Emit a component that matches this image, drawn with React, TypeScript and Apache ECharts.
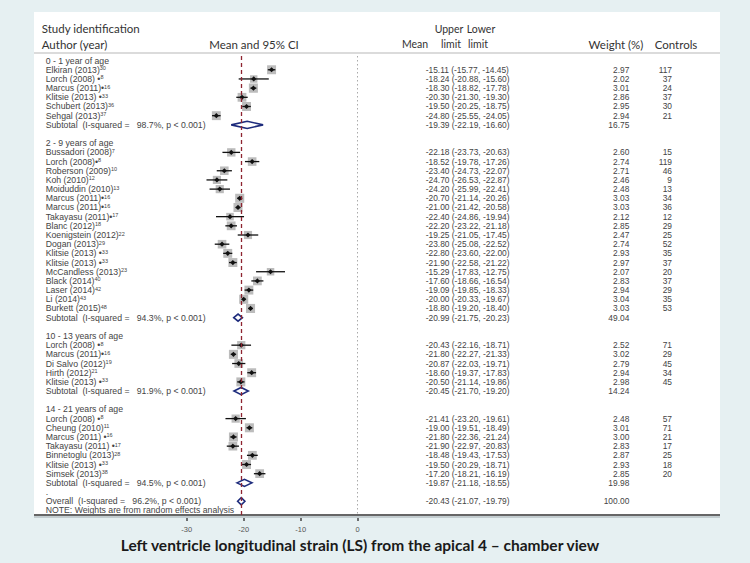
import React, { useEffect, useRef } from "react";
import * as echarts from "echarts";

// ---------- data ----------
const groupNames = ["0 - 1 year of age", "2 - 9 years of age", "10 - 13 years of age", "14 - 21 years of age"];
const groupI2 = ["98.7%", "94.3%", "91.9%", "94.5%"];
const groupMean = [-19.39, -20.99, -20.45, -19.87];
const groupLower = [-22.19, -21.75, -21.7, -21.18];
const groupUpper = [-16.6, -20.23, -19.2, -18.55];
const groupWeight = [16.75, 49.04, 14.24, 19.98];

const overallI2 = "96.2%";
const overallMean = -20.43;
const overallLower = -21.07;
const overallUpper = -19.79;
const overallWeight = 100.0;

const studyGroup = [
  0, 0, 0, 0, 0, 0,
  1, 1, 1, 1, 1, 1, 1, 1, 1, 1, 1, 1, 1, 1, 1, 1, 1, 1,
  2, 2, 2, 2, 2,
  3, 3, 3, 3, 3, 3, 3,
];
const studyAuthor = [
  "Elkiran (2013)", "Lorch (2008) \u2022", "Marcus (2011)\u2022", "Klitsie (2013) \u2022", "Schubert (2013)", "Sehgal (2013)",
  "Bussadori (2008)", "Lorch (2008)\u2022", "Roberson (2009)", "Koh (2010)", "Moiduddin (2010)", "Marcus (2011)\u2022",
  "Marcus (2011)\u2022", "Takayasu (2011)\u2022", "Blanc (2012)", "Koenigstein (2012)", "Dogan (2013)", "Klitsie (2013) \u2022",
  "Klitsie (2013) \u2022", "McCandless (2013)", "Black (2014)", "Laser (2014)", "Li (2014)", "Burkett (2015)",
  "Lorch (2008) \u2022", "Marcus (2011)\u2022", "Di Salvo (2012)", "Hirth (2012)", "Klitsie (2013) \u2022",
  "Lorch (2008) \u2022", "Cheung (2010)", "Marcus (2011) \u2022", "Takayasu (2011) \u2022", "Binnetoglu (2013)", "Klitsie (2013) \u2022", "Simsek (2013)",
];
const studyRef = [
  "30", "8", "16", "33", "36", "37",
  "7", "8", "10", "12", "13", "16", "16", "17", "18", "22", "29", "33", "33", "23", "40", "42", "43", "48",
  "8", "16", "19", "21", "33",
  "8", "11", "16", "17", "28", "33", "38",
];
const studyMean = [
  -15.11, -18.24, -18.3, -20.3, -19.5, -24.8,
  -22.18, -18.52, -23.4, -24.7, -24.2, -20.7, -21.0, -22.4, -22.2, -19.25, -23.8, -22.8, -21.9, -15.29, -17.6, -19.09, -20.0, -18.8,
  -20.43, -21.8, -20.87, -18.6, -20.5,
  -21.41, -19.0, -21.8, -21.9, -18.48, -19.5, -17.2,
];
const studyLower = [
  -15.77, -20.88, -18.82, -21.3, -20.25, -25.55,
  -23.73, -19.78, -24.73, -26.53, -25.99, -21.14, -21.42, -24.86, -23.22, -21.05, -25.08, -23.6, -22.58, -17.83, -18.66, -19.85, -20.33, -19.2,
  -22.16, -22.27, -22.03, -19.37, -21.14,
  -23.2, -19.51, -22.36, -22.97, -19.43, -20.29, -18.21,
];
const studyUpper = [
  -14.45, -15.6, -17.78, -19.3, -18.75, -24.05,
  -20.63, -17.26, -22.07, -22.87, -22.41, -20.26, -20.58, -19.94, -21.18, -17.45, -22.52, -22.0, -21.22, -12.75, -16.54, -18.33, -19.67, -18.4,
  -18.71, -21.33, -19.71, -17.83, -19.86,
  -19.61, -18.49, -21.24, -20.83, -17.53, -18.71, -16.19,
];
const studyWeight = [
  2.97, 2.02, 3.01, 2.86, 2.95, 2.94,
  2.6, 2.74, 2.71, 2.46, 2.48, 3.03, 3.03, 2.12, 2.85, 2.47, 2.74, 2.93, 2.97, 2.07, 2.83, 2.94, 3.04, 3.03,
  2.52, 3.02, 2.79, 2.94, 2.98,
  2.48, 3.01, 3.0, 2.83, 2.87, 2.93, 2.85,
];
const studyControls = [
  117, 37, 24, 37, 30, 21,
  15, 119, 46, 9, 13, 34, 36, 12, 29, 25, 52, 35, 37, 20, 37, 29, 35, 53,
  71, 29, 45, 34, 45,
  57, 71, 21, 17, 25, 18, 20,
];

const xTicks = [-30, -20, -10, 0];

// ---------- build rows ----------
type Mark = { row: number; kind: "study" | "pooled"; mean: number; lower: number; upper: number; weight: number; controls: string };
const rowLabels: string[] = [];
const marks: Mark[] = [];
groupNames.forEach((g, gi) => {
  rowLabels.push(`{n|${g}}`);
  studyAuthor.forEach((a, si) => {
    if (studyGroup[si] !== gi) return;
    marks.push({
      row: rowLabels.length, kind: "study", mean: studyMean[si], lower: studyLower[si], upper: studyUpper[si],
      weight: studyWeight[si], controls: String(studyControls[si]),
    });
    rowLabels.push(`{n|${a}}{s|${studyRef[si]}}`);
  });
  marks.push({ row: rowLabels.length, kind: "pooled", mean: groupMean[gi], lower: groupLower[gi], upper: groupUpper[gi], weight: groupWeight[gi], controls: "" });
  rowLabels.push(`{n|Subtotal  (I-squared =   ${groupI2[gi]}, p < 0.001)}`);
  rowLabels.push(gi === groupNames.length - 1 ? "{n|.}" : "");
});
marks.push({ row: rowLabels.length, kind: "pooled", mean: overallMean, lower: overallLower, upper: overallUpper, weight: overallWeight, controls: "" });
rowLabels.push(`{n|Overall  (I-squared =   ${overallI2}, p < 0.001)}`);
rowLabels.push("{n|NOTE: Weights are from random effects analysis}");

const fmt = (v: number) => v.toFixed(2);

// ---------- layout ----------
const X0 = 357.7; // pixel of 0
const XM30 = 186.7; // pixel of -30
const GRID_TOP = 56;
const GRID_BOTTOM = 515;
const PANEL = { x: 34, y: 12, w: 686, h: 503 };
const TXT = "'Liberation Sans', Arial, sans-serif";
const HDR = "Lato, 'Open Sans', sans-serif";

export default function App() {
  const ref = useRef<HTMLDivElement>(null);
  useEffect(() => {
    if (!ref.current) return;
    const chart = echarts.init(ref.current, undefined, { renderer: "svg" });
    const hdr = (text: string, x: number, y: number, align: string = "center", size: number = 11.5) => ({
      type: "text", x, y, z: 5,
      style: { text, fill: "#333", font: `${size}px ${HDR}`, align, verticalAlign: "middle" },
    });
    const option: any = {
      animation: false,
      backgroundColor: "#e6f0f2",
      grid: { left: XM30, width: X0 - XM30, top: GRID_TOP, height: GRID_BOTTOM - GRID_TOP, containLabel: false },
      xAxis: {
        type: "value", min: xTicks[0], max: xTicks[xTicks.length - 1], interval: 10,
        axisLine: { show: false },
        axisTick: { show: true, length: 6, lineStyle: { color: "#444", width: 1.5 } },
        axisLabel: { fontSize: 7.5, color: "#555", fontFamily: TXT, margin: 10 },
        splitLine: { show: false },
      },
      yAxis: {
        type: "category", inverse: true,
        data: rowLabels.map((_, i) => "r" + i),
        axisLine: { show: false }, axisTick: { show: false }, splitLine: { show: false },
        axisLabel: {
          interval: 0, align: "left", margin: XM30 - 45.7,
          formatter: (_v: string, i: number) => rowLabels[i],
          rich: {
            n: { fontSize: 8.7, fontFamily: TXT, color: "#444", lineHeight: 9 },
            s: { fontSize: 5.5, fontFamily: TXT, color: "#444", verticalAlign: "top", lineHeight: 5 },
          },
        },
      },
      graphic: [
        { type: "rect", z: -10, shape: { x: PANEL.x, y: PANEL.y, width: PANEL.w, height: PANEL.h }, style: { fill: "#ffffff" } },
        { type: "line", z: 5, shape: { x1: PANEL.x, y1: 53, x2: PANEL.x + PANEL.w, y2: 53 }, style: { stroke: "#cfcfcf", lineWidth: 1.5 } },
        { type: "line", z: 5, shape: { x1: PANEL.x, y1: 517, x2: PANEL.x + PANEL.w, y2: 517 }, style: { stroke: "#c3cdd0", lineWidth: 2 } },
        { type: "line", z: 5, shape: { x1: PANEL.x, y1: 515, x2: PANEL.x + PANEL.w, y2: 515 }, style: { stroke: "#666", lineWidth: 1.8 } },
        hdr("Study identification", 41.7, 28.5, "left"),
        hdr("Author (year)", 41.7, 44, "left"),
        hdr("Mean and 95% CI", 254, 44),
        hdr("Mean", 415, 44, "center", 10.5),
        hdr("Upper", 449, 29, "center", 10.5),
        hdr("limit", 451, 44, "center", 10.5),
        hdr("Lower", 481, 29, "center", 10.5),
        hdr("limit", 478, 44, "center", 10.5),
        hdr("Weight (%)", 616, 44),
        hdr("Controls", 676, 44),
        {
          type: "text", x: 360, y: 545, z: 5,
          style: {
            text: "Left ventricle longitudinal strain (LS) from the apical 4 \u2013 chamber view",
            fill: "#1a1a1a", font: `bold 15.5px ${HDR}`, align: "center", verticalAlign: "middle",
          },
        },
      ],
      series: [
        {
          type: "line", data: [], z: 1, silent: true,
          markLine: {
            silent: true, symbol: ["none", "none"], label: { show: false },
            data: [
              { xAxis: overallMean, lineStyle: { color: "#8e2430", type: [4, 3], width: 1.3 } },
              { xAxis: 0, lineStyle: { color: "#aaaaaa", type: [1.5, 2.5], width: 1 } },
            ],
          },
        },
        {
          type: "custom", z: 3, clip: false, silent: true,
          encode: { x: 0, y: 1 },
          data: marks.map((m) => [m.mean, m.row, m.lower, m.upper, m.weight]),
          renderItem: (params: any, api: any) => {
            const m = marks[params.dataIndex];
            const c = api.coord([m.mean, m.row]);
            const lo = api.coord([m.lower, m.row]);
            const hi = api.coord([m.upper, m.row]);
            const y = c[1];
            const children: any[] = [];
            if (m.kind === "study") {
              const side = 5.2 * Math.sqrt(m.weight);
              children.push({ type: "rect", shape: { x: c[0] - side / 2, y: y - side / 2, width: side, height: side }, style: { fill: "#bcbcbc" } });
              children.push({ type: "line", shape: { x1: lo[0], y1: y, x2: hi[0], y2: y }, style: { stroke: "#111", lineWidth: 1.3 } });
              children.push({ type: "polygon", shape: { points: [[c[0] - 2.6, y], [c[0], y - 2.6], [c[0] + 2.6, y], [c[0], y + 2.6]] }, style: { fill: "#111" } });
            } else {
              children.push({
                type: "polygon",
                shape: { points: [[lo[0], y], [c[0], y - 3.6], [hi[0], y], [c[0], y + 3.6]] },
                style: { fill: "#fff", stroke: "#1d2b7c", lineWidth: 1.6 },
              });
            }
            const t = (text: string, x: number, align: string) => ({
              type: "text", x, y,
              style: { text, fill: "#444", font: `8.4px ${TXT}`, align, verticalAlign: "middle" },
            });
            children.push(t(`${fmt(m.mean)} (${fmt(m.lower)}, ${fmt(m.upper)})`, 425.7, "left"));
            children.push(t(fmt(m.weight), 629.3, "right"));
            if (m.controls) children.push(t(m.controls, 672, "right"));
            return { type: "group", children };
          },
        },
      ],
    };
    chart.setOption(option);
    return () => chart.dispose();
  }, []);
  return <div ref={ref} style={{ position: "fixed", left: 0, top: 0, width: 750, height: 563 }} />;
}
